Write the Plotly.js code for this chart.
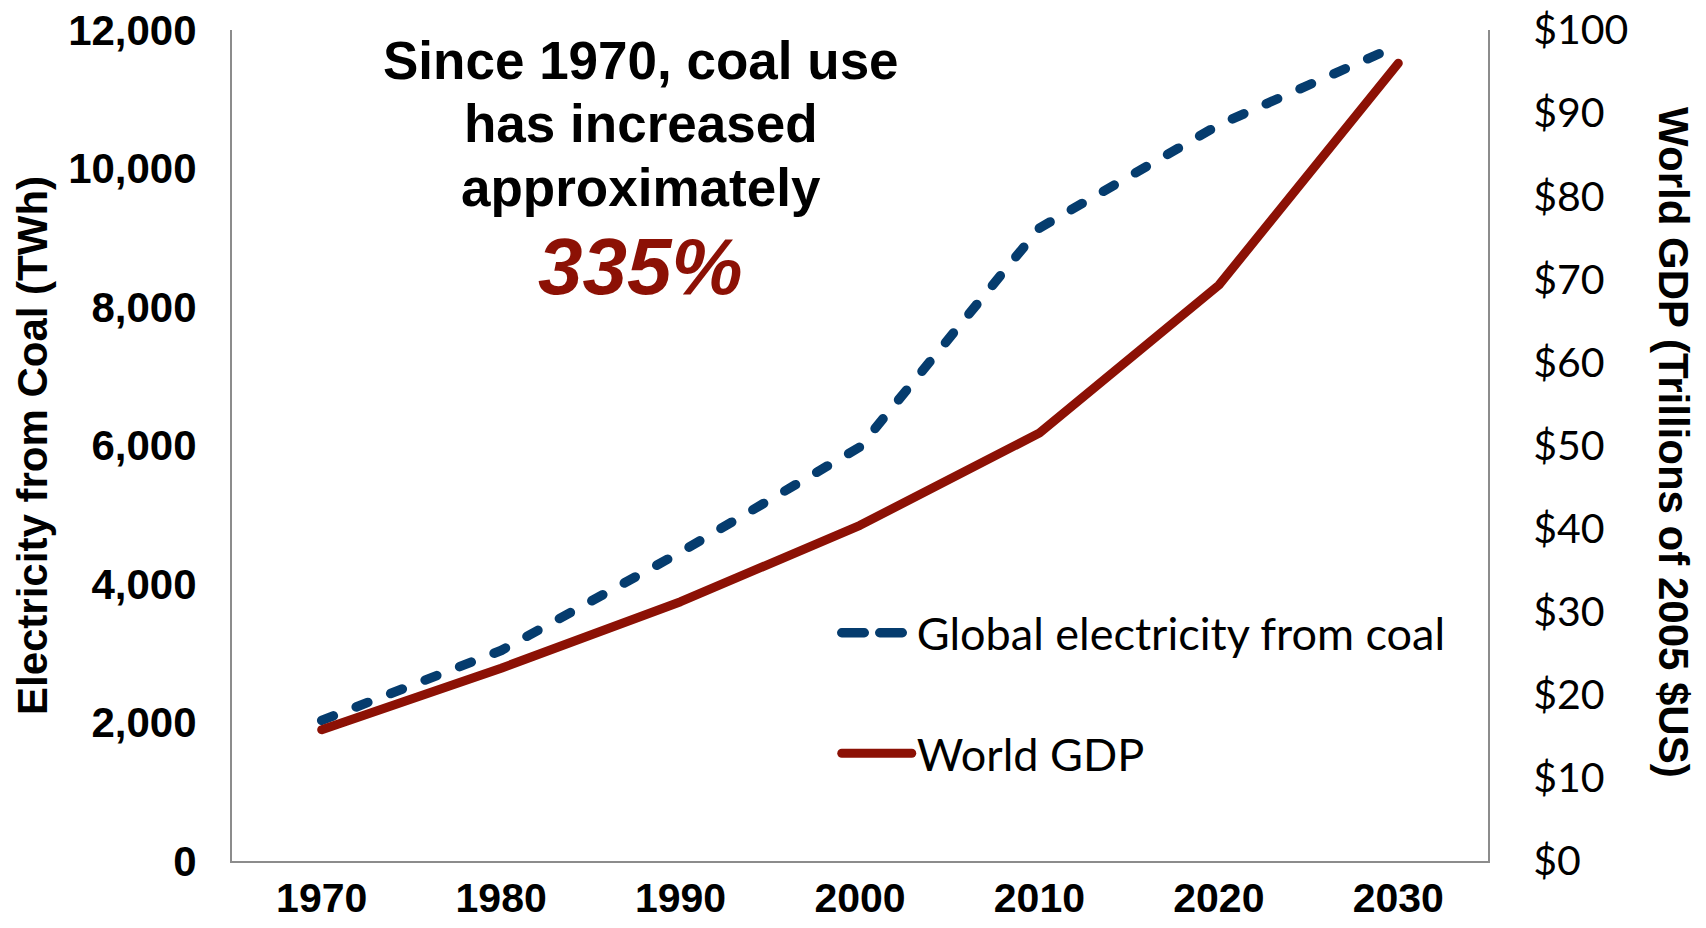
<!DOCTYPE html>
<html>
<head>
<meta charset="utf-8">
<script src="https://cdn.plot.ly/plotly-3.0.1.min.js"></script>
<style>
  html, body { margin: 0; padding: 0; background: #fff; }
  #chart { width: 1706px; height: 928px; }
  .js-line { stroke-linecap: round; stroke-linejoin: round; }
</style>
</head>
<body>
<div id="chart"></div>
<script>
// ---- data ----
const years = ['1970', '1980', '1990', '2000', '2010', '2020', '2030'];
const coalTWh = [2030, 3040, 4460, 5980, 9140, 10630, 11780];
const gdpTrillions = [15.8, 23.2, 31.2, 40.4, 51.5, 69.3, 96.0];
const coalTicks = [0, 2000, 4000, 6000, 8000, 10000, 12000];
const gdpTicks = [0, 10, 20, 30, 40, 50, 60, 70, 80, 90, 100];
const gdpTickLabels = ['$0', '$10', '$20', '$30', '$40', '$50', '$60', '$70', '$80', '$90', '$100'];
const seriesNames = ['Global electricity from coal', 'World GDP'];
const calloutLines = ['Since 1970, coal use', 'has increased', 'approximately'];
const calloutValue = '335%';

const BLUE = '#053C6E';
const RED = '#8C1105';
const AXIS_GRAY = '#8C8C8C';
const BOLD = 'Liberation Sans, Arial, sans-serif';
const LIGHT = 'Lato, Open Sans, sans-serif';

const traces = [
  {
    x: years, y: coalTWh, name: seriesNames[0], type: 'scatter', mode: 'lines',
    line: { color: BLUE, width: 9.5, dash: '12.5px,24.5px' },
    yaxis: 'y', legendgroup: 'a', hoverinfo: 'skip'
  },
  {
    x: years, y: gdpTrillions, name: seriesNames[1], type: 'scatter', mode: 'lines',
    line: { color: RED, width: 9 },
    yaxis: 'y2', legendgroup: 'b', hoverinfo: 'skip'
  }
];

const annotations = [];
const lineY = [0.9635, 0.8870, 0.8110];
calloutLines.forEach((t, i) => {
  annotations.push({
    text: t, xref: 'paper', yref: 'paper', x: 0.3256, y: lineY[i],
    xanchor: 'center', yanchor: 'middle', showarrow: false,
    font: { family: BOLD, size: 53, color: '#000', weight: 700 }
  });
});
annotations.push({
  text: '<i>' + calloutValue + '</i>', xref: 'paper', yref: 'paper', x: 0.3256, y: 0.716,
  xanchor: 'center', yanchor: 'middle', showarrow: false,
  font: { family: BOLD, size: 80, color: RED, weight: 700 }
});
annotations.push({
  text: 'World GDP (Trillions of 2005 $US)', xref: 'paper', yref: 'paper',
  x: 1.148, y: 0.503, xanchor: 'center', yanchor: 'middle', textangle: 90,
  showarrow: false, font: { family: BOLD, size: 42, color: '#000', weight: 700 }
});

const layout = {
  width: 1706, height: 928,
  margin: { l: 232, r: 218, t: 30, b: 67 },
  paper_bgcolor: '#fff', plot_bgcolor: '#fff',
  showlegend: true,
  legend: {
    x: 0.4815, y: 0.3177, xanchor: 'left', yanchor: 'top',
    traceorder: 'grouped', tracegroupgap: 59, itemwidth: 70,
    bgcolor: 'rgba(0,0,0,0)', font: { family: LIGHT, size: 45, color: '#000' }
  },
  xaxis: {
    type: 'category', range: [-0.5, 6.5], showgrid: false, zeroline: false,
    showline: true, linecolor: AXIS_GRAY, linewidth: 2, ticks: '',
    ticklabelstandoff: 0,
    tickfont: { family: BOLD, size: 41, color: '#000', weight: 700 }
  },
  yaxis: {
    range: [0, 12000], tickvals: coalTicks, tickformat: ',d',
    showgrid: false, zeroline: false, showline: true, linecolor: AXIS_GRAY, linewidth: 2,
    ticks: '', ticklabelstandoff: 25,
    tickfont: { family: BOLD, size: 42, color: '#000', weight: 700 },
    title: { text: 'Electricity from Coal (TWh)', standoff: 7,
             font: { family: BOLD, size: 42, color: '#000', weight: 700 } }
  },
  yaxis2: {
    overlaying: 'y', side: 'right', range: [0, 100], tickmode: 'array',
    tickvals: gdpTicks, ticktext: gdpTickLabels,
    showgrid: false, zeroline: false, showline: true, linecolor: AXIS_GRAY, linewidth: 2,
    ticks: '', ticklabelstandoff: 35,
    tickfont: { family: LIGHT, size: 41, color: '#000' }
  },
  annotations: annotations
};

Plotly.newPlot('chart', traces, layout, { displayModeBar: false, staticPlot: true }).then(() => {
  // legend sample of the dashed series: two longer dashes, as in the reference
  const legendLine = document.querySelector('#chart .legend .js-line');
  if (legendLine) legendLine.style.strokeDasharray = '22.5px 15.5px';
});
</script>
</body>
</html>
